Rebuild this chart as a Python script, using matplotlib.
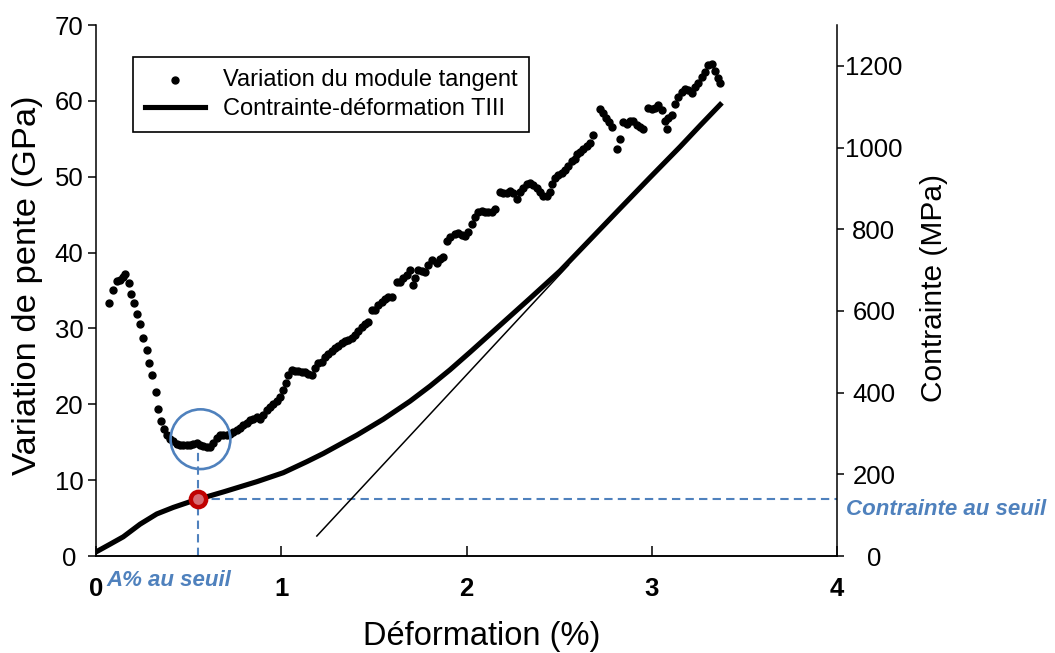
import matplotlib
matplotlib.use('Agg')
import matplotlib.pyplot as plt
from matplotlib import transforms

plt.rcParams['font.family'] = ['Liberation Sans', 'DejaVu Sans']

# variation du module tangent (GPa) en fonction de la déformation (%)
strain_pts = [
    0.072, 0.090, 0.112, 0.130, 0.144, 0.158, 0.177, 0.191, 0.207, 0.223,
    0.238, 0.255, 0.274, 0.288, 0.304, 0.322, 0.336, 0.351, 0.367, 0.385,
    0.400, 0.417, 0.436, 0.454, 0.471, 0.490, 0.508, 0.525, 0.544, 0.562,
    0.579, 0.598, 0.616, 0.633, 0.652, 0.670, 0.687, 0.706, 0.724, 0.741,
    0.760, 0.778, 0.795, 0.814, 0.832, 0.849, 0.868, 0.886, 0.903, 0.922,
    0.940, 0.957, 0.976, 0.994, 1.011, 1.026, 1.038, 1.057, 1.075, 1.092,
    1.111, 1.129, 1.146, 1.165, 1.183, 1.200, 1.219, 1.237, 1.254, 1.273,
    1.290, 1.308, 1.327, 1.344, 1.362, 1.381, 1.399, 1.416, 1.435, 1.452,
    1.470, 1.489, 1.506, 1.524, 1.543, 1.560, 1.578, 1.597, 1.624, 1.641,
    1.659, 1.678, 1.695, 1.713, 1.722, 1.740, 1.759, 1.776, 1.794, 1.813,
    1.840, 1.857, 1.875, 1.894, 1.911, 1.938, 1.956, 1.975, 1.992, 2.010,
    2.029, 2.046, 2.064, 2.083, 2.100, 2.118, 2.137, 2.154, 2.181, 2.199,
    2.218, 2.235, 2.253, 2.272, 2.289, 2.307, 2.326, 2.343, 2.361, 2.380,
    2.397, 2.415, 2.434, 2.451, 2.461, 2.478, 2.496, 2.515, 2.532, 2.550,
    2.569, 2.586, 2.596, 2.613, 2.631, 2.650, 2.667, 2.685, 2.718, 2.739,
    2.754, 2.770, 2.785, 2.812, 2.829, 2.847, 2.866, 2.883, 2.901, 2.920,
    2.937, 2.955, 2.982, 3.001, 3.018, 3.036, 3.055, 3.072, 3.082, 3.090,
    3.109, 3.126, 3.144, 3.163, 3.180, 3.198, 3.217, 3.234, 3.252, 3.271,
    3.288, 3.306, 3.325, 3.342, 3.356, 3.369,
]
module_pts = [
    33.4, 35.1, 36.2, 36.4, 36.8, 37.2, 36.0, 34.6, 33.4, 31.9,
    30.6, 28.8, 27.2, 25.5, 23.8, 21.6, 19.4, 17.8, 16.7, 16.0,
    15.4, 15.1, 14.8, 14.6, 14.6, 14.6, 14.7, 14.8, 14.9, 14.6,
    14.5, 14.4, 14.4, 14.9, 15.5, 15.9, 16.0, 15.9, 16.1, 16.3,
    16.6, 16.9, 17.3, 17.5, 17.9, 18.1, 18.3, 18.0, 18.6, 19.2,
    19.6, 20.1, 20.4, 21.0, 21.9, 22.8, 23.8, 24.5, 24.4, 24.4,
    24.3, 24.2, 24.0, 23.8, 24.8, 25.4, 25.6, 26.2, 26.6, 27.0,
    27.4, 27.7, 28.1, 28.3, 28.5, 28.8, 29.1, 29.6, 30.2, 30.6,
    30.9, 32.4, 32.4, 33.1, 33.5, 33.9, 34.2, 34.2, 36.1, 36.1,
    36.6, 37.0, 37.7, 35.7, 36.7, 37.7, 37.6, 37.5, 38.3, 39.0,
    38.6, 39.1, 39.4, 41.5, 42.0, 42.5, 42.6, 42.3, 42.2, 42.7,
    43.8, 44.7, 45.3, 45.5, 45.3, 45.3, 45.4, 45.7, 48.0, 47.9,
    47.8, 48.1, 47.8, 47.1, 48.0, 48.5, 49.1, 49.2, 48.9, 48.5,
    48.0, 47.4, 47.5, 48.0, 49.1, 49.8, 50.2, 50.5, 50.9, 51.4,
    52.1, 52.4, 53.0, 53.2, 53.7, 54.1, 54.5, 55.5, 58.9, 58.4,
    57.7, 57.2, 56.6, 53.7, 55.0, 57.2, 57.0, 57.3, 57.4, 56.8,
    56.5, 56.3, 59.0, 58.9, 59.0, 59.4, 58.8, 57.4, 56.3, 57.8,
    58.2, 59.6, 60.5, 61.2, 61.6, 61.4, 61.0, 61.8, 62.3, 63.2,
    63.8, 64.7, 64.8, 63.9, 63.0, 62.3,
]

# courbe contrainte-déformation TIII (MPa)
curve_strain = [0.0, 0.076, 0.147, 0.238, 0.328, 0.417, 0.508, 0.552, 0.688,
                0.868, 1.011, 1.138, 1.227, 1.408, 1.551, 1.695, 1.803, 1.911,
                2.019, 2.181, 2.343, 2.505, 2.721, 2.829, 2.991, 3.153, 3.261,
                3.369]
curve_stress = [10, 29, 47, 78, 103, 119, 133, 139, 157,
                182, 204, 231, 251, 296, 335, 379, 416, 456,
                499, 565, 631, 698, 800, 851, 927, 1002, 1054,
                1105]

# droite de la partie linéaire
tangent_strain = [1.192, 2.55]
tangent_stress = [49, 712]

# seuil
seuil_strain = 0.552
seuil_stress = 139
seuil_module = 15.4

x_ticks = [0, 1, 2, 3, 4]
left_ticks = [0, 10, 20, 30, 40, 50, 60, 70]
right_ticks = [0, 200, 400, 600, 800, 1000, 1200]

blue = '#4F81BD'

fig = plt.figure(figsize=(10.55, 6.53), dpi=100)
ax = fig.add_axes([0.091, 0.1485, 0.7024, 0.8132])
ax2 = ax.twinx()

pts = ax.scatter(strain_pts, module_pts, s=25, color='black', zorder=3,
                 label='Variation du module tangent')
line, = ax2.plot(curve_strain, curve_stress, color='black', lw=3.7,
                 solid_joinstyle='round', label='Contrainte-déformation TIII')
ax2.plot(tangent_strain, tangent_stress, color='black', lw=1.1)

# repères du seuil
ax.plot([seuil_strain, seuil_strain], [0, 14.0], color=blue, lw=1.5,
        dashes=(4, 2.5), zorder=2)
ax2.plot([seuil_strain, 4], [seuil_stress, seuil_stress], color=blue, lw=1.5,
         dashes=(4, 2.5), zorder=1)
ax.scatter([seuil_strain + 0.012], [seuil_module], s=1850, facecolors='none',
           edgecolors=blue, linewidths=1.9, zorder=4)
ax2.plot([seuil_strain], [seuil_stress], marker='o', ms=11, mfc='#D66B73',
         mec='#C00000', mew=3.2, zorder=5)

trans = transforms.blended_transform_factory(ax.transData, ax.transAxes)
ax.text(0.395, -0.047, 'A% au seuil', transform=trans, ha='center', va='center',
        color=blue, fontsize=16, fontweight='bold', style='italic')
ax2.text(4.05, 100, 'Contrainte au seuil', ha='left', va='baseline',
         color=blue, fontsize=16, fontweight='bold', style='italic')

ax.set_xlim(0, 4)
ax.set_ylim(0, 70)
ax2.set_ylim(0, 1300)

ax.set_xticks(x_ticks)
ax.set_xticklabels([str(v) for v in x_ticks], fontweight='bold')
ax.set_yticks(left_ticks)
ax.set_yticklabels([str(v) for v in left_ticks], ha='center')
ax2.set_yticks(right_ticks)
ax2.set_yticklabels([str(v) for v in right_ticks], ha='center')

ax.tick_params(axis='x', direction='in', length=7, width=1.1, labelsize=18.5, pad=15)
ax.tick_params(axis='y', direction='out', length=5.8, width=1.1, labelsize=18.5, pad=13.7)
ax2.tick_params(axis='y', direction='out', length=5.0, width=1.1, labelsize=18.5, pad=21.5)

for a in (ax, ax2):
    a.spines['top'].set_visible(False)
    for s in a.spines.values():
        s.set_linewidth(1.1)
ax.spines['right'].set_visible(False)
ax2.spines['left'].set_visible(False)

ax.set_xlabel('Déformation (%)', fontsize=23.5, va='center')
ax.xaxis.set_label_coords(0.520, -0.151)
ax.set_ylabel('Variation de pente (GPa)', fontsize=24.8, va='center')
ax.yaxis.set_label_coords(-0.0918, 0.510)
ax2.set_ylabel('Contrainte (MPa)', fontsize=21.5, va='center')
ax2.yaxis.set_label_coords(1.131, 0.505)

leg = ax2.legend([pts, line], ['Variation du module tangent', 'Contrainte-déformation TIII'],
                 loc='upper left', bbox_to_anchor=(0.0499, 0.9397), borderaxespad=0,
                 fontsize=17, frameon=True, fancybox=False, edgecolor='black',
                 framealpha=1, handlelength=2.55, handletextpad=0.75, borderpad=0.5,
                 labelspacing=0.3, scatterpoints=1)
leg.get_frame().set_linewidth(1.2)

fig.savefig('out.png', dpi=100)
